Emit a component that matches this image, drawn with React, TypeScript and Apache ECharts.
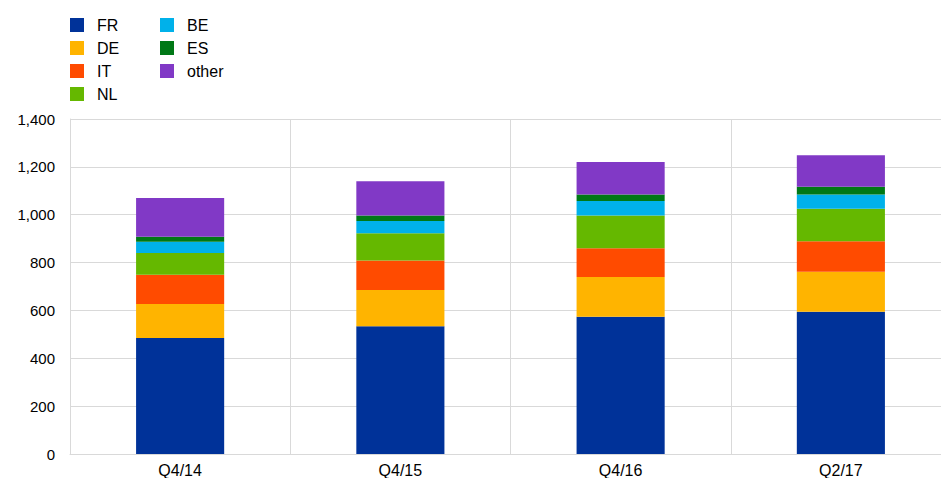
import React, { useEffect, useRef } from "react";
import * as echarts from "echarts";

const categories = ["Q4/14", "Q4/15", "Q4/16", "Q2/17"];
const seriesNames = ["FR", "DE", "IT", "NL", "BE", "ES", "other"];
const FR = [485, 534, 574, 595];
const DE = [142, 151, 166, 167];
const IT = [122, 124, 120, 127];
const NL = [91, 114, 137, 136];
const BE = [47, 51, 60, 60];
const ES = [21, 23, 28, 32];
const other = [162, 143, 135, 132];
const seriesValues = [FR, DE, IT, NL, BE, ES, other];
const colors = ["#003299", "#FFB400", "#FF4B00", "#65B800", "#00B1EA", "#007816", "#8139C6"];

const font = "'Liberation Sans', Arial, sans-serif";

export default function App() {
  const ref = useRef<HTMLDivElement>(null);
  useEffect(() => {
    if (!ref.current) return;
    const chart = echarts.init(ref.current, undefined, { renderer: "svg" });
    const legendCommon = {
      orient: "vertical" as const,
      top: 12,
      itemWidth: 14,
      itemHeight: 14,
      itemGap: 7,
      icon: "rect",
      textStyle: { fontFamily: font, fontSize: 16, color: "#000", padding: [0, 0, 0, 8] },
      selectedMode: false,
    };
    chart.setOption({
      animation: false,
      color: colors,
      textStyle: { fontFamily: font },
      legend: [
        { ...legendCommon, left: 65, data: ["FR", "DE", "IT", "NL"] },
        { ...legendCommon, left: 155, data: ["BE", "ES", "other"] },
      ],
      grid: { left: 70, right: 1, top: 119, bottom: 24, containLabel: false },
      xAxis: {
        type: "category",
        data: categories,
        axisLine: { show: true, lineStyle: { color: "#d9d9d9" } },
        axisTick: { show: false },
        axisLabel: { color: "#000", fontSize: 16, fontFamily: font, margin: 8 },
        splitLine: { show: true, lineStyle: { color: "#d9d9d9" } },
      },
      yAxis: {
        type: "value",
        min: 0,
        max: 1400,
        interval: 200,
        axisLine: { show: true, lineStyle: { color: "#d9d9d9" } },
        axisTick: { show: false },
        axisLabel: {
          color: "#000",
          fontSize: 15,
          fontFamily: font,
          margin: 15,
          formatter: (v: number) => v.toLocaleString("en-US"),
        },
        splitLine: { lineStyle: { color: "#d9d9d9" } },
      },
      series: seriesNames.map((name, i) => ({
        name,
        type: "bar",
        stack: "total",
        barWidth: "40%",
        data: seriesValues[i],
        itemStyle: { color: colors[i] },
      })),
    });
    return () => chart.dispose();
  }, []);
  return (
    <div style={{ position: "absolute", left: 0, top: 0, width: 941, height: 478, overflow: "hidden" }}>
      <div ref={ref} style={{ width: 952, height: 478 }} />
    </div>
  );
}
